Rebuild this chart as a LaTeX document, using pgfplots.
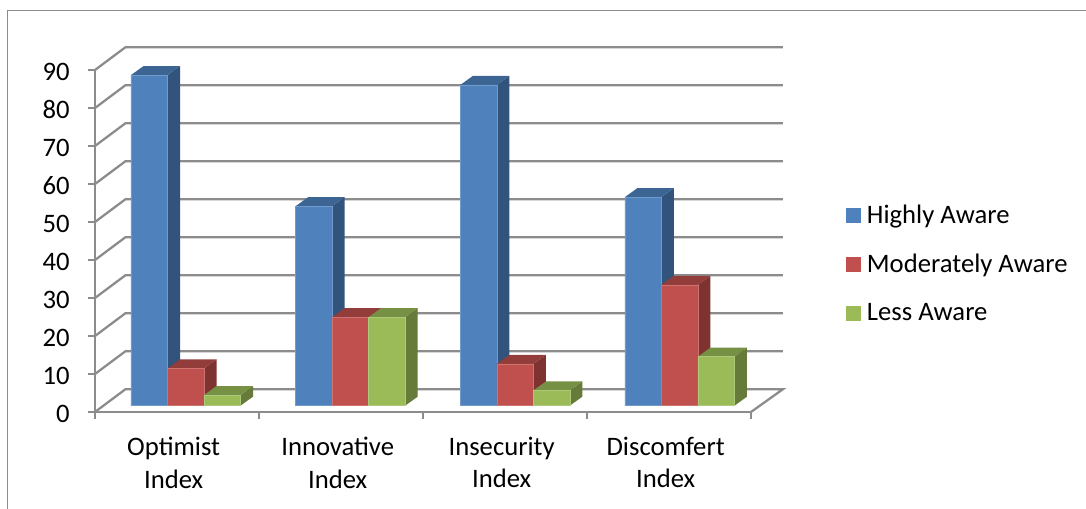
\documentclass[border=0pt]{standalone}
\usepackage{fontspec}
\setmainfont{Carlito}
\usepackage{pgfplots}
\pgfplotsset{compat=1.18}

\definecolor{gridgray}{HTML}{8C8C8C}
\definecolor{blueface}{HTML}{4F81BD}
\definecolor{bluetop}{HTML}{3C6594}
\definecolor{blueside}{HTML}{32537C}
\definecolor{redface}{HTML}{C0504D}
\definecolor{redtop}{HTML}{933D3B}
\definecolor{redside}{HTML}{7E3331}
\definecolor{greenface}{HTML}{9BBB59}
\definecolor{greentop}{HTML}{769044}
\definecolor{greenside}{HTML}{667A3A}

% Geometry of the extruded bars, in axis units
\newcommand{\barwidth}{0.2226}
\newcommand{\bardepthx}{0.0762}
\newcommand{\bardepthy}{2.37}
\newcommand{\barbase}{1.66}

% #1 group, #2 slot in group, #3 value, #4 colour prefix
\newcommand{\threedbar}[4]{%
  \pgfmathsetmacro{\xa}{0.2195+#1*1.004+#2*\barwidth}%
  \pgfmathsetmacro{\xb}{\xa+\barwidth}%
  \pgfmathsetmacro{\xc}{\xb+\bardepthx}%
  \pgfmathsetmacro{\xd}{\xa+\bardepthx}%
  \pgfmathsetmacro{\ya}{\barbase}%
  \pgfmathsetmacro{\yb}{\barbase+#3}%
  \pgfmathsetmacro{\yc}{\yb+\bardepthy}%
  \pgfmathsetmacro{\yd}{\ya+\bardepthy}%
  \edef\facecmd{\noexpand\addplot[fill=#4face,draw=#4face!80!white,line width=0.3pt,forget plot]
    coordinates {(\xa,\ya) (\xb,\ya) (\xb,\yb) (\xa,\yb) (\xa,\ya)};}%
  \edef\topcmd{\noexpand\addplot[fill=#4top,draw=none,forget plot]
    coordinates {(\xa,\yb) (\xb,\yb) (\xc,\yc) (\xd,\yc) (\xa,\yb)};}%
  \edef\sidecmd{\noexpand\addplot[fill=#4side,draw=none,forget plot]
    coordinates {(\xb,\ya) (\xc,\yd) (\xc,\yc) (\xb,\yb) (\xb,\ya)};}%
  \sidecmd\topcmd\facecmd
}

\begin{document}
\begin{tikzpicture}
\begin{axis}[
  name=ax,
  scale only axis,
  width=492pt, height=256.5pt,
  xmin=0, xmax=4, ymin=0, ymax=90,
  clip=false,
  axis x line=bottom, axis y line=left,
  axis line style={draw=gridgray,line width=1.7pt,-},
  tick style={draw=gridgray,line width=1.5pt},
  tick align=outside,
  major tick length=5pt,
  xtick={0,1,2,3,4},
  x tick label as interval,
  xticklabels={Optimist\\Index,Innovative\\Index,Insecurity\\Index,Discomfert\\Index},
  x tick label style={align=center,font=\fontsize{20}{24.2}\selectfont,xshift=-2.5pt,yshift=-10.5pt},
  ytick={0,10,...,90},
  y tick label style={font=\fontsize{20}{24}\selectfont,xshift=-10.5pt,yshift=-1.2pt},
  /pgf/number format/assume math mode=true,
  legend style={at={(axis cs:4.58,55.2)},anchor=north west,draw=none,fill=none,
    font=\fontsize{20}{24}\selectfont,row sep=17.5pt,inner sep=0pt},
  legend cell align=left,
]
% Outer chart frame
\addplot[gridgray,line width=1.1pt,forget plot] coordinates {(-0.5335,-25.5) (-0.5335,105.66) (6.043,105.66)};

% Back wall gridlines with their diagonal run onto the floor plane
\addplot[gridgray,line width=1.7pt,forget plot] coordinates {(0,0) (0.186,6) (4.195,6) (4,0)};
\addplot[gridgray,line width=1.7pt,forget plot] coordinates {(0,10) (0.186,16) (4.195,16)};
\addplot[gridgray,line width=1.7pt,forget plot] coordinates {(0,20) (0.186,26) (4.195,26)};
\addplot[gridgray,line width=1.7pt,forget plot] coordinates {(0,30) (0.186,36) (4.195,36)};
\addplot[gridgray,line width=1.7pt,forget plot] coordinates {(0,40) (0.186,46) (4.195,46)};
\addplot[gridgray,line width=1.7pt,forget plot] coordinates {(0,50) (0.186,56) (4.195,56)};
\addplot[gridgray,line width=1.7pt,forget plot] coordinates {(0,60) (0.186,66) (4.195,66)};
\addplot[gridgray,line width=1.7pt,forget plot] coordinates {(0,70) (0.186,76) (4.195,76)};
\addplot[gridgray,line width=1.7pt,forget plot] coordinates {(0,80) (0.186,86) (4.195,86)};
\addplot[gridgray,line width=1.7pt,forget plot] coordinates {(0,90) (0.186,96) (4.195,96)};

% Optimist Index
\threedbar{0}{0}{87}{blue}
\threedbar{0}{1}{9.8}{red}
\threedbar{0}{2}{2.8}{green}
% Innovative Index
\threedbar{1}{0}{52.5}{blue}
\threedbar{1}{1}{23.3}{red}
\threedbar{1}{2}{23.3}{green}
% Insecurity Index
\threedbar{2}{0}{84.4}{blue}
\threedbar{2}{1}{11}{red}
\threedbar{2}{2}{4}{green}
% Discomfert Index
\threedbar{3}{0}{54.9}{blue}
\threedbar{3}{1}{31.8}{red}
\threedbar{3}{2}{12.9}{green}

% Legend swatches, with a little room reserved before the text
\addlegendimage{legend image code/.code={\path[draw=none,fill=blueface] (0pt,-5.6pt) rectangle (11.2pt,5.6pt);\path[draw=none,fill=none] (0pt,0pt) rectangle (13.4pt,0.1pt);}}
\addlegendentry{Highly Aware}
\addlegendimage{legend image code/.code={\path[draw=none,fill=redface] (0pt,-5.6pt) rectangle (11.2pt,5.6pt);\path[draw=none,fill=none] (0pt,0pt) rectangle (13.4pt,0.1pt);}}
\addlegendentry{Moderately Aware}
\addlegendimage{legend image code/.code={\path[draw=none,fill=greenface] (0pt,-5.6pt) rectangle (11.2pt,5.6pt);\path[draw=none,fill=none] (0pt,0pt) rectangle (13.4pt,0.1pt);}}
\addlegendentry{Less Aware}
\end{axis}
% Page extent: the chart area around the plot box
\pgfresetboundingbox
\path[use as bounding box] ([shift={(-71.25pt,-72.75pt)}]ax.south west) rectangle ([shift={(251.25pt,52.5pt)}]ax.north east);
\end{tikzpicture}
\end{document}
